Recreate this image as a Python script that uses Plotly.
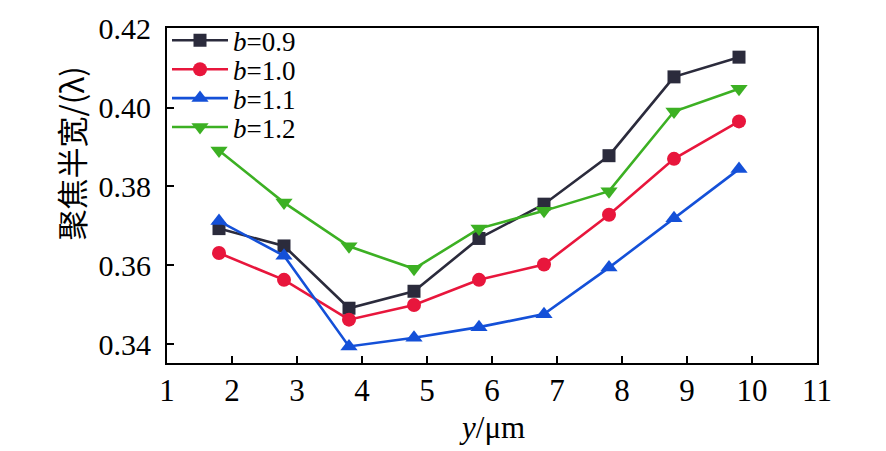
import plotly.graph_objects as go

x_pos = [1.8, 2.8, 3.8, 4.8, 5.8, 6.8, 7.8, 8.8, 9.8]
b09 = [0.3693, 0.3649, 0.3491, 0.3534, 0.3668, 0.3755, 0.3878, 0.4078, 0.4128]
b10 = [0.3631, 0.3563, 0.3462, 0.3499, 0.3563, 0.3602, 0.3728, 0.3870, 0.3965]
b11 = [0.3712, 0.3624, 0.3394, 0.3416, 0.3443, 0.3476, 0.3594, 0.3719, 0.3844]
b12 = [0.3891, 0.3759, 0.3648, 0.3591, 0.3693, 0.3738, 0.3788, 0.3990, 0.4048]
names = ["<i>b</i>=0.9", "<i>b</i>=1.0", "<i>b</i>=1.1", "<i>b</i>=1.2"]
x_ticks = [1, 2, 3, 4, 5, 6, 7, 8, 9, 10, 11]
y_ticks = [0.34, 0.36, 0.38, 0.40, 0.42]
x_title = "<i>y</i>/μm"
y_title = "聚焦半宽/(λ)"

series = [b09, b10, b11, b12]
colors = ["#2b2b3c", "#e8163c", "#1450d8", "#3cb023"]
symbols = ["square", "circle", "triangle-up", "triangle-down"]
msizes = [13, 14, 15, 15]
legend_ids = ["legend", "legend2", "legend3", "legend4"]

SERIF = "Liberation Serif"
CJK = "Noto Sans CJK SC"

# plot area in pixels
W, H = 886, 451
L, R, T, B = 167, 69, 21, 88
ph = H - T - B

fig = go.Figure()
for vals, nm, c, s, ms, lg in zip(series, names, colors, symbols, msizes, legend_ids):
    fig.add_trace(go.Scatter(
        x=x_pos, y=vals, name=nm, mode="lines+markers", legend=lg,
        line=dict(color=c, width=2.6),
        marker=dict(symbol=s, size=ms, color=c),
    ))

legend_centers_px = [34, 63.5, 93, 122.5]
leg_common = dict(x=0.0, xanchor="left", yanchor="middle", bgcolor="rgba(0,0,0,0)",
                  font=dict(size=27, family=SERIF, color="black"), itemwidth=56,
                  borderwidth=0)
layout_legends = {}
for lg, py in zip(legend_ids, legend_centers_px):
    layout_legends[lg] = dict(leg_common, y=(H - B - py) / ph)

fig.update_layout(
    width=W, height=H,
    margin=dict(l=L, r=R, t=T, b=B),
    plot_bgcolor="white", paper_bgcolor="white",
    font=dict(family=SERIF, size=30, color="black"),
    showlegend=True,
    **layout_legends,
)
fig.update_xaxes(
    range=[1, 11], tickvals=x_ticks, ticktext=[str(t) for t in x_ticks],
    ticks="inside", ticklen=7, tickwidth=1.5, tickcolor="black",
    showline=True, linecolor="black", linewidth=2, mirror=True,
    showgrid=False, zeroline=False,
    tickfont=dict(size=31, family=SERIF, color="black"),
    ticklabelstandoff=-1,
)
fig.update_yaxes(
    range=[0.3352, 0.4202], tickvals=y_ticks, ticktext=["%.2f" % t for t in y_ticks],
    ticks="inside", ticklen=7, tickwidth=1.5, tickcolor="black",
    showline=True, linecolor="black", linewidth=2, mirror=True,
    showgrid=False, zeroline=False,
    tickfont=dict(size=30, family=SERIF, color="black"),
    ticklabelstandoff=8,
)
fig.add_annotation(
    text=x_title, xref="paper", yref="paper", x=0.5, y=(H - B - 429) / ph,
    xanchor="center", yanchor="middle", showarrow=False,
    font=dict(size=31, family=SERIF, color="black"),
)
fig.add_annotation(
    text=y_title, xref="paper", yref="paper", x=(70 - L) / (W - L - R), y=(H - B - 149) / ph,
    xanchor="center", yanchor="middle", showarrow=False, textangle=-90,
    font=dict(size=31, family=CJK, color="black"),
)
fig.write_html("out.html", post_script="document.body.style.margin='0';",
               config={"displayModeBar": False})
